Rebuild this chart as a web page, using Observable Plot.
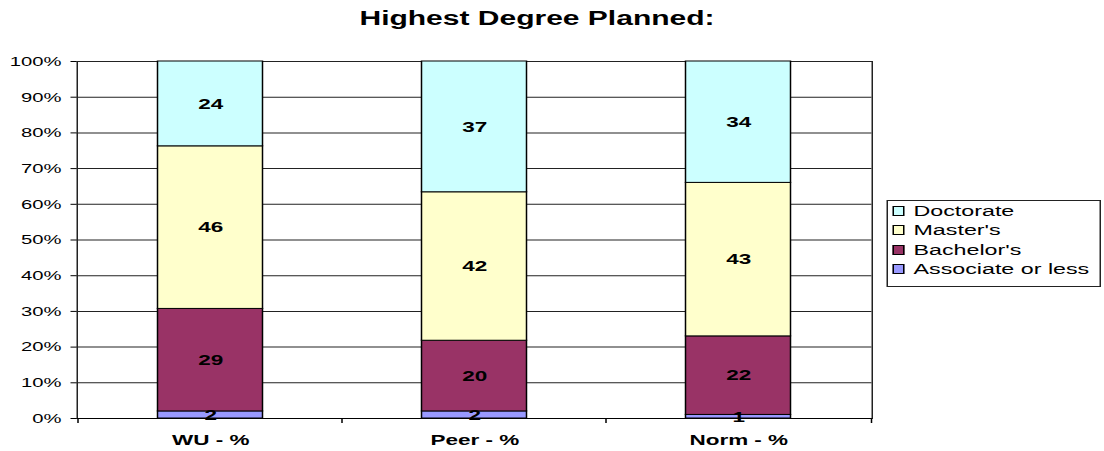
<!DOCTYPE html>
<html>
<head>
<meta charset="utf-8">
<script src="https://cdn.jsdelivr.net/npm/d3@7"></script>
<script src="https://cdn.jsdelivr.net/npm/@observablehq/plot@0.6"></script>
<style>
  html, body { margin: 0; padding: 0; background: #fff; overflow: hidden; }
  #page {
    position: relative;
    width: 736px;
    height: 451px;
    transform: scaleX(1.5);
    transform-origin: 0 0;
    font-family: "Liberation Sans", Arial, sans-serif;
  }
  #title {
    width: 716px;
    height: 36px;
    line-height: 36px;
    text-align: center;
    font-size: 20px;
    font-weight: bold;
    color: #000;
  }
  #legend {
    position: absolute;
    left: 590.5px;
    top: 200px;
    width: 141px;
    height: 85px;
    border: 1px solid #222;
    box-sizing: content-box;
    padding-top: 0px;
  }
  .row {
    display: flex;
    align-items: center;
    height: 19.5px;
    font-size: 15.5px;
    color: #000;
  }
  .sw {
    width: 6px;
    height: 8px;
    border: 1px solid #000;
    margin-left: 3.5px;
    margin-right: 6px;
  }
</style>
</head>
<body>
<div id="page">
  <div id="title">Highest Degree Planned:</div>
  <div id="chart"></div>
  <div id="legend"></div>
</div>
<script>
// Survey groups along the x axis
const categories = ["WU - %", "Peer - %", "Norm - %"];
// Degree levels, stacked bottom to top
const degrees = ["Associate or less", "Bachelor's", "Master's", "Doctorate"];
const colors = ["#9999FF", "#993366", "#FFFFCC", "#CCFFFF"];

// Percent of respondents per group
const associate = [2, 2, 1];
const bachelors = [29, 20, 22];
const masters = [46, 42, 43];
const doctorate = [24, 37, 34];

const yTicks = [0, 0.1, 0.2, 0.3, 0.4, 0.5, 0.6, 0.7, 0.8, 0.9, 1];

const series = [associate, bachelors, masters, doctorate];
const data = categories.flatMap((category, i) =>
  degrees.map((degree, j) => ({category, degree, value: series[j][i]}))
);

const stackOpts = {x: "category", y: "value", z: "degree", offset: "normalize", order: degrees};

const plot = Plot.plot({
  width: 736,
  height: 415,
  marginTop: 25,
  marginBottom: 33,
  marginLeft: 51,
  marginRight: 155,
  style: {fontFamily: "'Liberation Sans', Arial, sans-serif", fontSize: "13px", background: "white", color: "#000"},
  x: {type: "band", domain: categories, paddingInner: 0.6, paddingOuter: 0.3, label: null},
  y: {domain: [0, 1], label: null},
  color: {domain: degrees, range: colors},
  marks: [
    Plot.gridY(yTicks, {stroke: "#222", strokeOpacity: 1}),
    Plot.frame({stroke: "#222"}),
    Plot.barY(data, Plot.stackY({...stackOpts, fill: "degree", stroke: "#000", strokeWidth: 1})),
    Plot.text(data, Plot.stackY({...stackOpts, text: d => String(d.value), fill: "#000",
      fontSize: 15, fontWeight: "bold"})),
    Plot.ruleY([0], {stroke: "#000"}),
    Plot.axisY(yTicks, {tickFormat: d3.format(".0%"), tickSize: 4, tickPadding: 6.5,
      fontSize: 13.5, stroke: "#000", fill: "#000"}),
    Plot.axisX({tickSize: 0, tickPadding: 16, fontSize: 15, fontWeight: "bold", fill: "#000"})
  ]
});

document.getElementById("chart").appendChild(plot);

// Category divider ticks below the x axis, taken from the band scale
const xs = plot.scale("x");
const ys = plot.scale("y");
const gap = xs.step - xs.bandwidth;
const bounds = categories.map(c => xs.apply(c) - gap / 2).concat([xs.range[1]]);
const y0 = ys.apply(0);
d3.select(plot).append("g")
  .attr("stroke", "#000")
  .selectAll("line")
  .data(bounds)
  .join("line")
  .attr("x1", d => d).attr("x2", d => d)
  .attr("y1", y0).attr("y2", y0 + 5);

// Legend, top entry first
const legend = d3.select("#legend");
degrees.map((d, i) => ({d, c: colors[i]})).reverse().forEach(({d, c}) => {
  const row = legend.append("div").attr("class", "row");
  row.append("div").attr("class", "sw").style("background", c);
  row.append("span").text(d);
});
</script>
</body>
</html>
